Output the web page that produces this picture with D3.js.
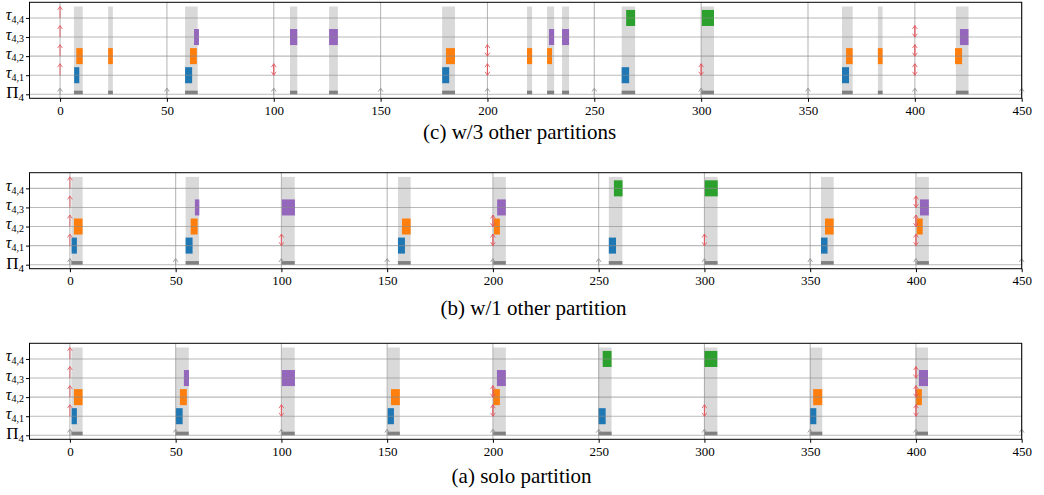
<!DOCTYPE html>
<html>
<head>
<meta charset="utf-8">
<script src="https://cdn.jsdelivr.net/npm/d3@7"></script>
<style>
  body { margin: 0; background: #fff; }
  text { font-family: "Liberation Serif", "DejaVu Serif", serif; }
</style>
</head>
<body>
<div id="chart"></div>
<script>
// rows: 0 = partition, 1..4 = tasks
const rowBase = ["Π", "τ", "τ", "τ", "τ"];
const rowSub = ["4", "4,1", "4,2", "4,3", "4,4"];
const xTicks = [0, 50, 100, 150, 200, 250, 300, 350, 400, 450];
const partitionArrivals = [0, 50, 100, 150, 200, 250, 300, 350, 400, 450];

// job releases / deadlines per task (τ4,1 .. τ4,4)
const releases = [[0, 100, 200, 300, 400], [0, 200, 400], [0, 400], [0]];
const deadlines = [[100, 200, 300, 400], [200, 400], [400], []];

// (c) w/3 other partitions
const windowsC = [[6.5, 10.6], [22.5, 24.7], [58.5, 64.4], [107.6, 111], [125.9, 130], [178.8, 184.8],
  [218.5, 220.9], [227.9, 231.2], [234.9, 238.2], [262.8, 269.1], [300, 306], [365.9, 370.9],
  [382.7, 384.9], [419.2, 425.1]];
const jobsC = [[1, 6.6, 9.0], [2, 7.6, 10.6], [2, 22.5, 24.7], [1, 58.5, 61.8], [2, 60.8, 64.0],
  [3, 62.7, 65.0], [3, 107.6, 111.0], [3, 125.9, 130.0], [1, 178.8, 182.1], [2, 180.6, 184.8],
  [2, 218.5, 220.9], [2, 227.9, 230.2], [3, 228.8, 231.2], [3, 234.9, 238.2], [1, 262.8, 266.3],
  [4, 264.9, 269.1], [4, 300.3, 306.0], [1, 365.9, 369.2], [2, 367.8, 370.9], [2, 382.7, 384.9],
  [2, 418.8, 422.1], [3, 421.1, 425.1]];

// (b) w/1 other partition
const windowsB = [[0.7, 6], [54.7, 61], [100.2, 106.3], [155.1, 161.1], [200.1, 206.1],
  [254.8, 261.2], [300.1, 306.2], [355.1, 361.1], [400.3, 406.1]];
const jobsB = [[1, 0.8, 3.3], [2, 1.9, 6.0], [1, 54.7, 58.0], [2, 57.1, 60.4], [3, 59.1, 61.2],
  [3, 100.2, 106.4], [1, 155.1, 158.4], [2, 157, 161.1], [2, 200.5, 203.3], [3, 202, 206.1],
  [1, 254.8, 258.2], [4, 257.2, 261.3], [4, 300.1, 306.3], [1, 355.1, 358.2], [2, 357, 361.1],
  [2, 400.3, 403.2], [3, 401.9, 406.1]];

// (a) solo partition
const windowsA = [[0.7, 6], [50.1, 56.2], [100.2, 106.3], [150.2, 156], [200.1, 206.1],
  [249.9, 256.1], [299.9, 306.1], [349.9, 355.7], [399.9, 405.7]];
const jobsA = [[1, 0.8, 3.3], [2, 1.9, 6.0], [1, 50.1, 53.3], [2, 52, 55.3], [3, 53.9, 56.3],
  [3, 100.2, 106.4], [1, 150.2, 153.2], [2, 151.8, 156], [2, 200.1, 203.3], [3, 201.9, 206.1],
  [1, 249.9, 253.3], [4, 251.9, 256.1], [4, 299.9, 306.1], [1, 349.9, 352.9], [2, 351.4, 355.7],
  [2, 399.9, 402.8], [3, 401.4, 405.7]];

const taskColors = ["#7f7f7f", "#1f77b4", "#ff7f0e", "#9467bd", "#2ca02c"];

const panels = [
  {title: "(c) w/3 other partitions", top: 2.3, xMin: -14.3, windows: windowsC, jobs: jobsC, capY: 41, capX: -6},
  {title: "(b) w/1 other partition", top: 172.7, xMin: -19.1, windows: windowsB, jobs: jobsB, capY: 46.5, capX: 8},
  {title: "(a) solo partition", top: 343.3, xMin: -19.1, windows: windowsA, jobs: jobsA, capY: 44, capX: -4}
];

const W = 1044, H = 495;
const left = 29.5, right = 1021.7, ph = 96;

const svg = d3.select("#chart").append("svg")
  .attr("width", W).attr("height", H)
  .style("background", "#fff");

function arrow(g, px, y0, y1, color, op) {
  const dir = y1 < y0 ? 1 : -1;
  const a = g.append("g").attr("stroke", color).attr("stroke-opacity", op)
    .attr("stroke-width", 1).attr("fill", "none");
  a.append("line").attr("x1", px).attr("x2", px).attr("y1", y0).attr("y2", y1);
  a.append("path").attr("d", `M${px - 2.4},${y1 + dir * 3.4}L${px},${y1}L${px + 2.4},${y1 + dir * 3.4}`);
}

panels.forEach(p => {
  const g = svg.append("g").attr("transform", `translate(0,${p.top})`);
  const x = d3.scaleLinear().domain([p.xMin, 450]).range([left, right]);
  const y = d3.scaleLinear().domain([-0.21, 4.82]).range([ph, 0]);

  // partition windows
  g.selectAll("rect.win").data(p.windows).join("rect")
    .attr("x", d => x(d[0])).attr("width", d => x(d[1]) - x(d[0]))
    .attr("y", y(4.6)).attr("height", y(0) - y(4.6))
    .attr("fill", "#d9d9d9");
  g.selectAll("rect.base").data(p.windows).join("rect")
    .attr("x", d => x(d[0])).attr("width", d => x(d[1]) - x(d[0]))
    .attr("y", y(0.19)).attr("height", y(0) - y(0.19))
    .attr("fill", "#808080");

  // jobs
  g.selectAll("rect.job").data(p.jobs).join("rect")
    .attr("x", d => x(d[1])).attr("width", d => x(d[2]) - x(d[1]))
    .attr("y", d => y(d[0] + 0.42)).attr("height", d => y(d[0] - 0.42) - y(d[0] + 0.42))
    .attr("fill", d => taskColors[d[0]]);

  // grid
  g.selectAll("line.hg").data([0, 1, 2, 3, 4]).join("line")
    .attr("x1", left).attr("x2", right).attr("y1", d => y(d)).attr("y2", d => y(d))
    .attr("stroke", "#8a8a8a").attr("stroke-opacity", 0.6).attr("stroke-width", 1.1);
  g.selectAll("line.vg").data(xTicks).join("line")
    .attr("x1", d => x(d)).attr("x2", d => x(d)).attr("y1", 0).attr("y2", ph)
    .attr("stroke", "#8a8a8a").attr("stroke-opacity", 0.6).attr("stroke-width", 1.1);

  // partition arrivals
  partitionArrivals.forEach(t => arrow(g, x(t), y(0), y(0.32), "#999", 0.9));

  // releases (up) and deadlines (down)
  releases.forEach((ts, i) => ts.forEach(t => arrow(g, x(t), y(i + 1), y(i + 1.6), "#e4525a", 0.8)));
  deadlines.forEach((ts, i) => ts.forEach(t => arrow(g, x(t), y(i + 1.6), y(i + 1), "#e4525a", 0.8)));

  // axes
  const xa = g.append("g").attr("transform", `translate(0,${ph})`)
    .call(d3.axisBottom(x).tickValues(xTicks).tickSize(3.5).tickPadding(4));
  xa.select(".domain").remove();
  xa.selectAll("text").attr("font-size", 13).attr("fill", "#000")
    .style("font-family", "'Liberation Serif', serif");

  const ya = g.append("g").attr("transform", `translate(${left},0)`)
    .call(d3.axisLeft(y).tickValues([0, 1, 2, 3, 4]).tickSize(3.5).tickFormat(""));
  ya.select(".domain").remove();

  [0, 1, 2, 3, 4].forEach(r => {
    const t = g.append("text")
      .attr("x", 24).attr("y", y(r) + (r === 0 ? 4 : 2.5))
      .attr("text-anchor", "end").attr("fill", "#000");
    if (r === 0) {
      t.append("tspan").attr("font-size", 17).text(rowBase[r]);
      t.append("tspan").attr("font-size", 11).attr("dy", 3).text(rowSub[r]);
    } else {
      t.append("tspan").attr("font-size", 16).attr("font-style", "italic").text(rowBase[r]);
      t.append("tspan").attr("font-size", 10).attr("dy", 2.8).text(rowSub[r]);
    }
  });

  // frame
  g.append("rect").attr("x", left).attr("y", 0).attr("width", right - left).attr("height", ph)
    .attr("fill", "none").attr("stroke", "#000").attr("stroke-width", 1);

  // caption
  g.append("text").attr("x", (left + right) / 2 + p.capX).attr("y", ph + p.capY)
    .attr("text-anchor", "middle").attr("font-size", 21).attr("fill", "#000")
    .text(p.title);
});
</script>
</body>
</html>
